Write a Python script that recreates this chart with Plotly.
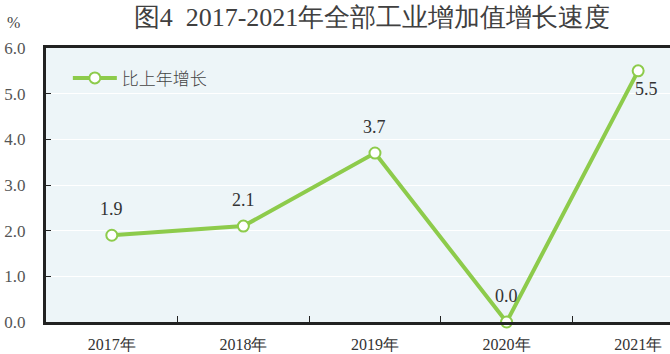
import plotly.graph_objects as go

years = ["2017年", "2018年", "2019年", "2020年", "2021年"]
growth = [1.9, 2.1, 3.7, 0.0, 5.5]
label_dx = [0, 0, 0, 0, 8]
label_dy = [26, 26, 26, 26, -18]
y_ticks = [0, 1, 2, 3, 4, 5, 6]
y_tick_text = ["0.0", "1.0", "2.0", "3.0", "4.0", "5.0", "6.0"]

GREEN = "#8DCB4B"
SERIF = "Liberation Serif"

fig = go.Figure()
fig.add_trace(go.Scatter(
    x=list(range(len(years))), y=growth,
    mode="lines+markers",
    name="比上年增长",
    line=dict(color=GREEN, width=4),
    marker=dict(size=11, color="white", line=dict(color=GREEN, width=2)),
    cliponaxis=False,
))

annotations = []
for i, v in enumerate(growth):
    annotations.append(dict(
        x=i, y=v, xref="x", yref="y", text=f"{v:.1f}", showarrow=False,
        xshift=label_dx[i], yshift=label_dy[i],
        font=dict(family=SERIF, size=18, color="#333333"),
    ))
annotations.append(dict(text="%", x=(13 - 46) / 624, y=(322 - 22) / 274,
                        xref="paper", yref="paper", xanchor="center", yanchor="middle",
                        showarrow=False, font=dict(family=SERIF, size=16, color="#444444")))

fig.update_layout(
    width=670, height=354,
    margin=dict(l=46, r=0, t=48, b=32),
    paper_bgcolor="white",
    plot_bgcolor="#EDF5F8",
    title=dict(text="图4\u00a0\u00a02017-2021年全部工业增加值增长速度",
               x=372 / 670, xanchor="center", y=(354 - 17) / 354, yanchor="middle",
               font=dict(family=SERIF, size=26, color="#404040")),
    showlegend=True,
    legend=dict(x=0.035, y=0.955, xanchor="left", yanchor="top",
                bgcolor="rgba(0,0,0,0)", itemwidth=44,
                font=dict(family="Noto Sans CJK SC", size=17, color="#444444", weight=300)),
    xaxis=dict(
        range=[-0.5, 4.242],
        tickmode="array",
        tickvals=list(range(len(years))),
        ticktext=years,
        showgrid=False, automargin=False,
        showline=True, linecolor="#222222", linewidth=3, mirror=True,
        ticks="", zeroline=False,
        ticklabelstandoff=6,
        tickfont=dict(family=SERIF, size=16, color="#333333"),
        minor=dict(tickvals=[0.5, 1.5, 2.5, 3.5], ticks="inside", ticklen=6,
                   tickcolor="#222222", tickwidth=1, showgrid=False),
    ),
    yaxis=dict(
        range=[0, 6],
        tickvals=y_ticks, ticktext=y_tick_text,
        showgrid=True, gridcolor="white", gridwidth=1.2,
        showline=True, linecolor="#222222", linewidth=3, automargin=False,
        ticks="inside", ticklen=5, tickcolor="#222222", tickwidth=1,
        zeroline=False,
        ticklabelstandoff=14,
        tickfont=dict(family=SERIF, size=17, color="#555555"),
    ),
    annotations=annotations,
)

fig.write_html("out.html")
